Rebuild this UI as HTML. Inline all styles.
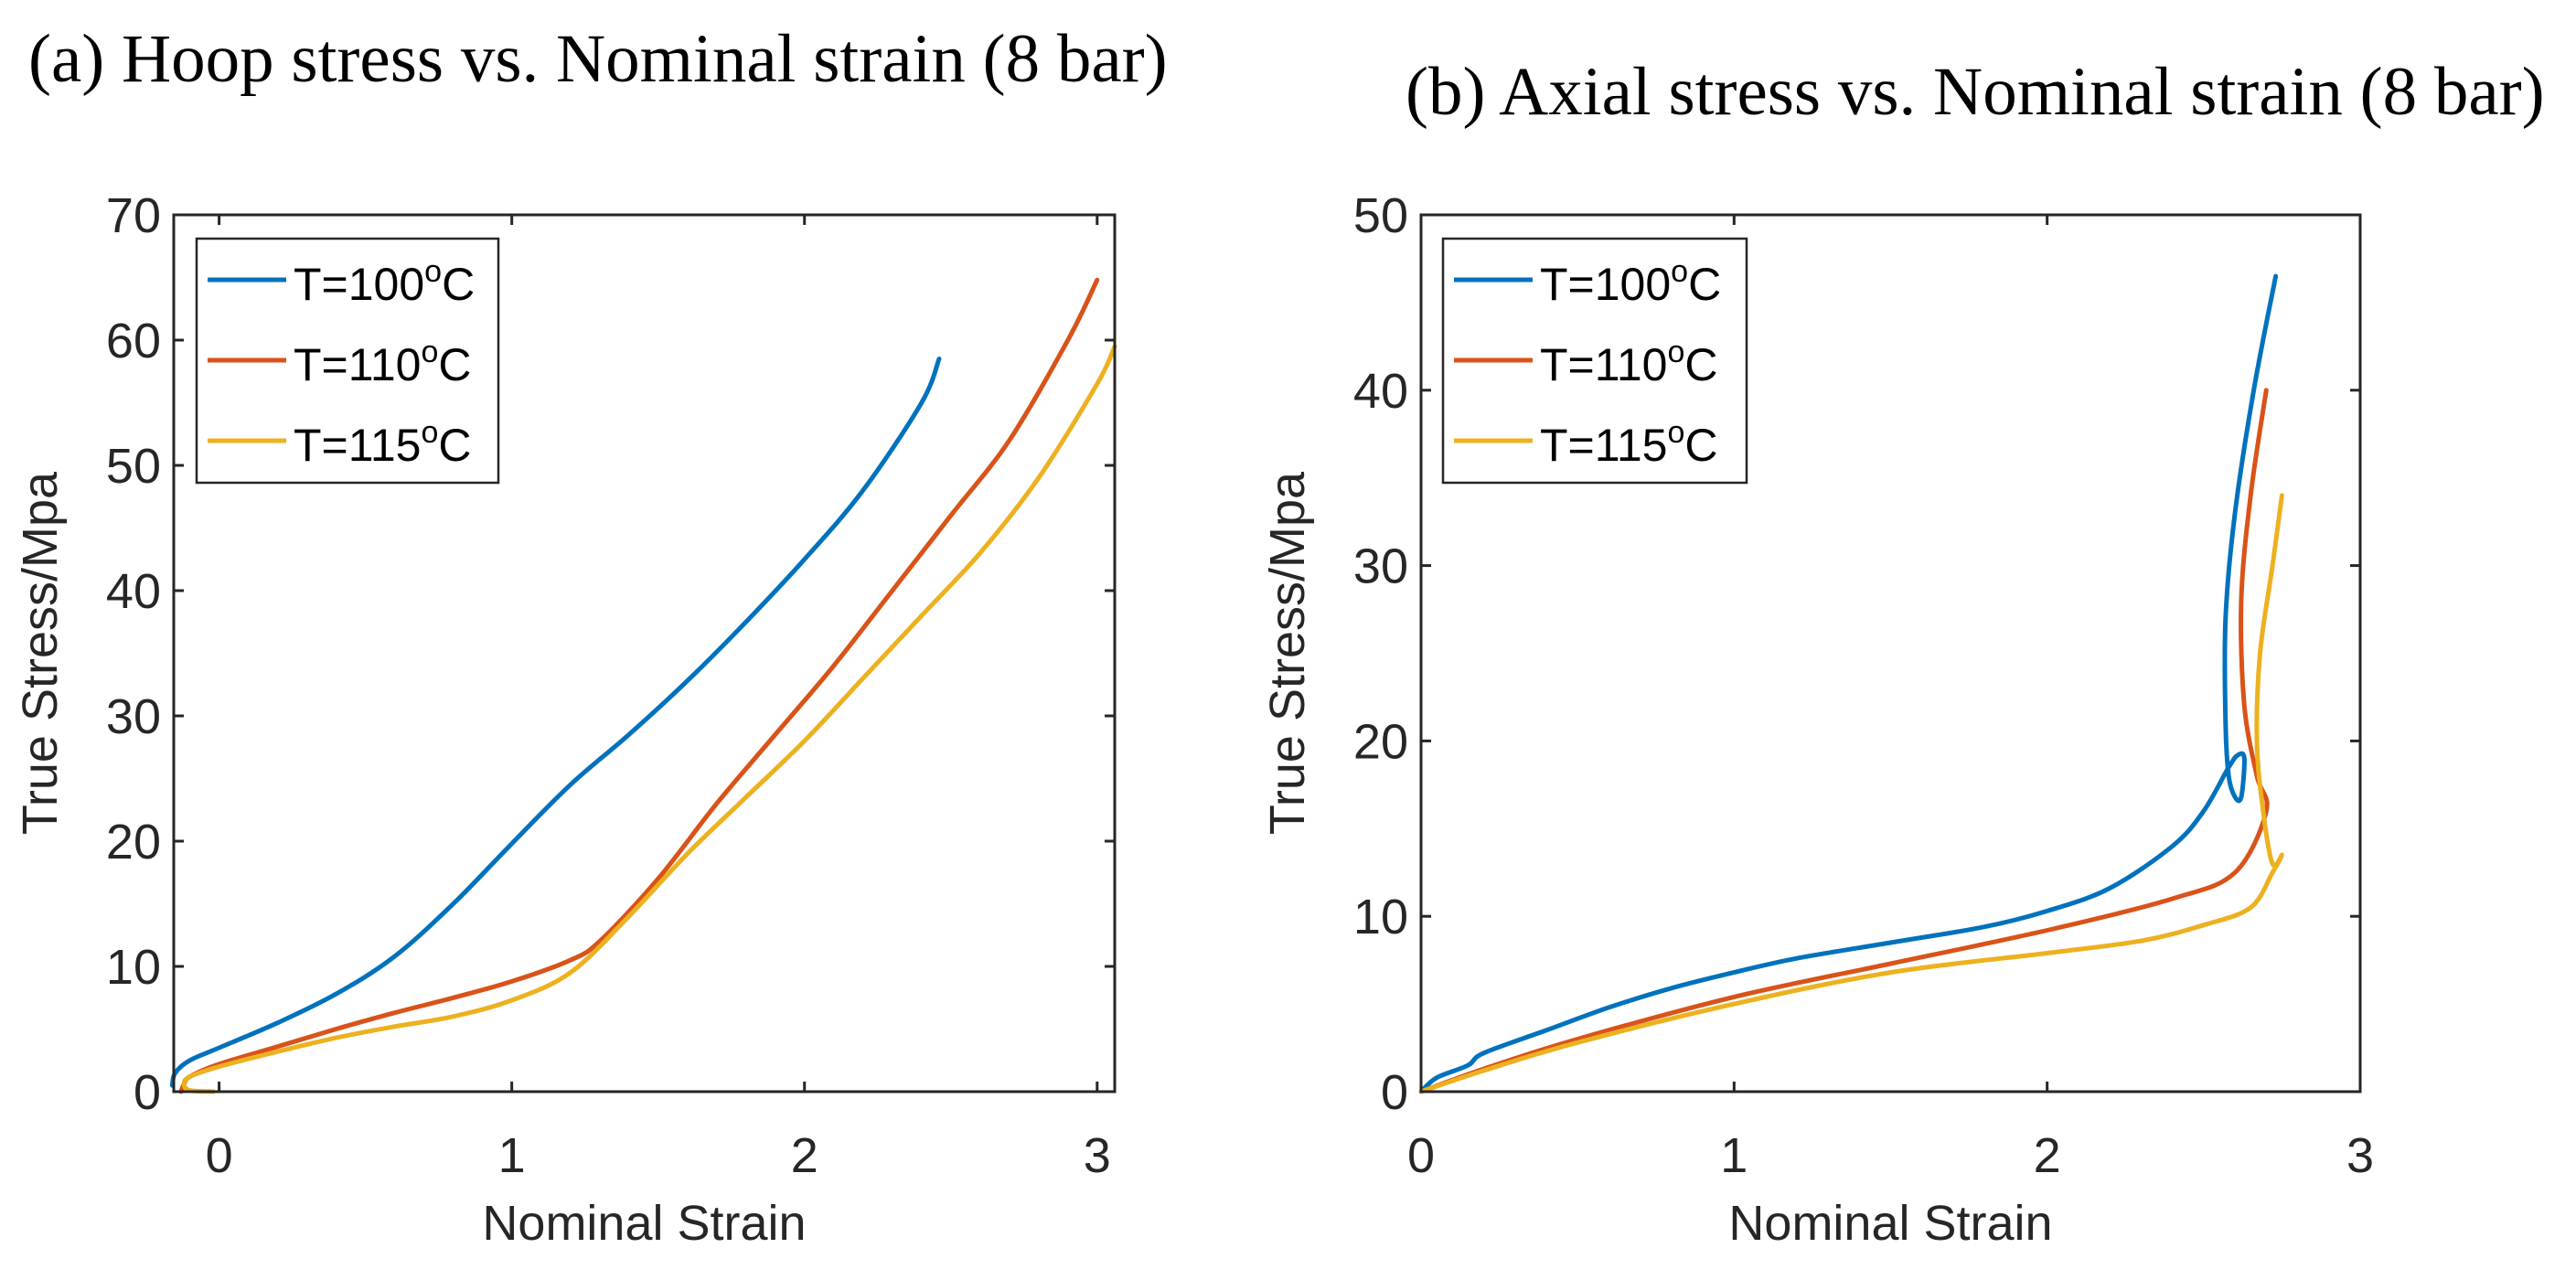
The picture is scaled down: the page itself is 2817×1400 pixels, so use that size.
<!DOCTYPE html>
<html><head><meta charset="utf-8"><style>
html,body{margin:0;padding:0;background:#fff;}
svg{display:block;}
</style></head><body>
<svg id="fig" width="2817" height="1400" xmlns="http://www.w3.org/2000/svg">
<text x="31" y="89" font-family="Liberation Serif, serif" font-size="75" fill="#000">(a) Hoop stress vs. Nominal strain (8 bar)</text>
<text x="1537" y="125" font-family="Liberation Serif, serif" font-size="75" fill="#000">(b) Axial stress vs. Nominal strain (8 bar)</text>
<g id="plotA"></g>
<g id="plotB"></g>
</svg>
<script>
const labels = ['T=100', 'T=110', 'T=115'];
const colors = ['#0072BD', '#D95319', '#EDB120'];
const xTicks = [0, 1, 2, 3];
const yTicksA = [0, 10, 20, 30, 40, 50, 60, 70];
const yTicksB = [0, 10, 20, 30, 40, 50];
// Hoop (a)
const a100x = [-0.16,-0.15,-0.1,0,0.2,0.4,0.6,0.8,1.0,1.2,1.4,1.6,1.8,2.0,2.2,2.4,2.46];
const a100y = [0.5,1.5,2.5,3.5,5.5,7.8,10.8,15,19.8,24.5,28.5,32.8,37.5,42.5,48,55,58.5];
const a110x = [-0.13,-0.12,-0.1,0,0.2,0.4,0.6,0.8,1.0,1.2,1.3,1.5,1.7,1.9,2.1,2.3,2.5,2.7,2.9,3.0];
const a110y = [0,0.6,1.2,2.2,3.6,5,6.3,7.5,8.8,10.5,12,17,23,28.5,34,40,46,52,60,64.8];
const a115x = [-0.02,-0.1,-0.12,-0.1,0,0.2,0.4,0.6,0.8,1.0,1.2,1.4,1.6,1.8,2.0,2.2,2.4,2.6,2.8,3.0,3.06];
const a115y = [0,0.1,0.6,1.2,2,3.2,4.3,5.2,6,7.3,9.5,14,19,23.5,28,33,38,43,49,56.5,59.5];
// Axial (b)
const b100x = [0,0.05,0.15,0.2,0.4,0.6,0.8,1.0,1.2,1.5,1.8,2.0,2.2,2.4,2.5,2.58,2.61,2.63,2.62,2.6,2.58,2.57,2.57,2.6,2.66,2.73];
const b100y = [0,0.8,1.5,2.2,3.5,4.8,5.9,6.8,7.6,8.5,9.4,10.3,11.6,14,16,18.5,19.2,19,16.8,16.8,18,21,27,33,40,46.5];
const b110x = [0,0.2,0.5,1.0,1.5,2.0,2.4,2.6,2.7,2.67,2.63,2.62,2.65,2.7];
const b110y = [0,1.3,3,5.4,7.3,9.2,11,12.5,16,18,22,28,34,40];
const b115x = [0,0.2,0.5,1.0,1.5,2.0,2.3,2.5,2.65,2.72,2.75,2.72,2.69,2.67,2.68,2.72,2.75];
const b115y = [0,1.2,2.8,5,6.8,7.9,8.6,9.5,10.5,12.5,13.5,13,16,20,25,30,34];

const NS='http://www.w3.org/2000/svg';
function mk(parent, tag, attrs){const e=document.createElementNS(NS,tag);for(const k in attrs)e.setAttribute(k,attrs[k]);parent.appendChild(e);return e;}
function smoothPath(pts){
  let d='M'+pts[0][0].toFixed(1)+','+pts[0][1].toFixed(1);
  for(let i=0;i<pts.length-1;i++){
    const p0=pts[Math.max(0,i-1)],p1=pts[i],p2=pts[i+1],p3=pts[Math.min(pts.length-1,i+2)];
    const c1=[p1[0]+(p2[0]-p0[0])/6,p1[1]+(p2[1]-p0[1])/6];
    const c2=[p2[0]-(p3[0]-p1[0])/6,p2[1]-(p3[1]-p1[1])/6];
    d+=' C'+c1.map(v=>v.toFixed(1)).join(',')+' '+c2.map(v=>v.toFixed(1)).join(',')+' '+p2.map(v=>v.toFixed(1)).join(',');
  }
  return d;
}

function drawPlot(g, box, xr, yr, yTicks, series, legendBox, prefix){
  const sx=v=>box.l+(v-xr[0])/(xr[1]-xr[0])*(box.r-box.l);
  const sy=v=>box.b-(v-yr[0])/(yr[1]-yr[0])*(box.b-box.t);
  series.forEach((s,i)=>{
    const pts=s.x.map((v,j)=>[sx(v),sy(s.y[j])]);
    const p=mk(g,'path',{d:smoothPath(pts),fill:'none',stroke:colors[i],'stroke-width':5,'stroke-linejoin':'round','stroke-linecap':'round'});
    
    
  });
  const r=mk(g,'rect',{x:box.l,y:box.t,width:box.r-box.l,height:box.b-box.t,fill:'none',stroke:'#262626','stroke-width':3});
  
  
  xTicks.forEach(v=>{
    const x=sx(v);
    mk(g,'line',{x1:x,x2:x,y1:box.b,y2:box.b-11,stroke:'#262626','stroke-width':3});
    mk(g,'line',{x1:x,x2:x,y1:box.t,y2:box.t+11,stroke:'#262626','stroke-width':3});
    const t=mk(g,'text',{x:x,y:box.b+88,'text-anchor':'middle','font-family':'Liberation Sans, sans-serif','font-size':54,fill:'#262626'});
    t.textContent=v;
    
    
  });
  yTicks.forEach(v=>{
    const y=sy(v);
    mk(g,'line',{x1:box.l,x2:box.l+11,y1:y,y2:y,stroke:'#262626','stroke-width':3});
    mk(g,'line',{x1:box.r,x2:box.r-11,y1:y,y2:y,stroke:'#262626','stroke-width':3});
    const t=mk(g,'text',{x:box.l-14,y:y+19,'text-anchor':'end','font-family':'Liberation Sans, sans-serif','font-size':54,fill:'#262626'});
    t.textContent=v;
    
    
  });
  const xt=mk(g,'text',{x:(box.l+box.r)/2,y:box.b+162,'text-anchor':'middle','font-family':'Liberation Sans, sans-serif','font-size':54,fill:'#262626'});
  xt.textContent='Nominal Strain';
  
  
  const cy=(box.t+box.b)/2; const cx=box.l-128;
  const yt=mk(g,'text',{x:cx,y:cy,'text-anchor':'middle',transform:`rotate(-90 ${cx} ${cy})`,'font-family':'Liberation Sans, sans-serif','font-size':54,fill:'#262626'});
  yt.textContent='True Stress/Mpa';
  
  
  const lg=mk(g,'g',{});
  
  
  mk(lg,'rect',{x:legendBox.x,y:legendBox.y,width:legendBox.w,height:legendBox.h,fill:'#fff',stroke:'#262626','stroke-width':2.5});
  labels.forEach((lab,i)=>{
    const y=legendBox.y+45+i*88;
    const e=mk(lg,'g',{});
    
    
    mk(e,'line',{x1:legendBox.x+12,x2:legendBox.x+98,y1:y,y2:y,stroke:colors[i],'stroke-width':5});
    const t=mk(e,'text',{x:legendBox.x+106,y:y+22,'font-family':'Liberation Sans, sans-serif','font-size':50,fill:'#000'});
    t.innerHTML=lab+'<tspan dy="-20" font-size="34">o</tspan><tspan dy="20">C</tspan>';
  });
}
drawPlot(document.getElementById('plotA'),{l:190,r:1219,t:235,b:1194},[-0.155,3.06],[0,70],yTicksA,
  [{x:a100x,y:a100y},{x:a110x,y:a110y},{x:a115x,y:a115y}],{x:215,y:261,w:330,h:267},'hoop');
drawPlot(document.getElementById('plotB'),{l:1554,r:2581,t:235,b:1194},[0,3],[0,50],yTicksB,
  [{x:b100x,y:b100y},{x:b110x,y:b110y},{x:b115x,y:b115y}],{x:1578,y:261,w:332,h:267},'axial');
</script>
</body></html>
